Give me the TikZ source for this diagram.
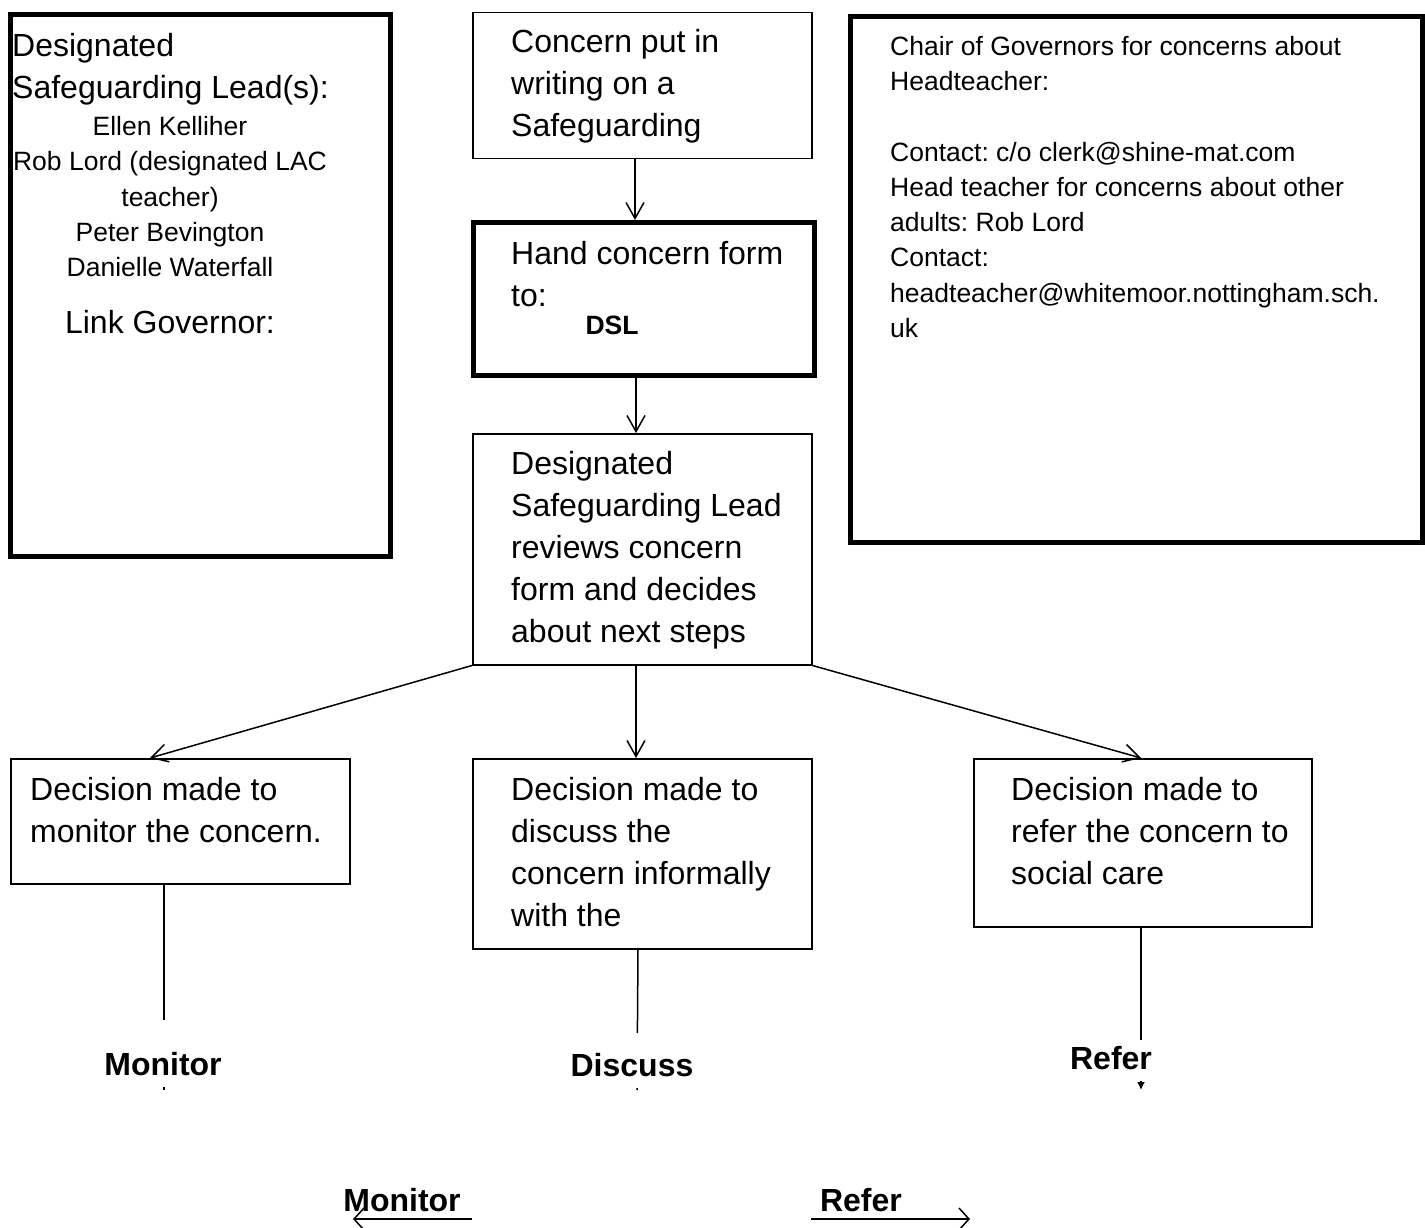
\documentclass[tikz,border=0pt]{standalone}
\usepackage{fontspec}
\setmainfont{Liberation Sans}
\usetikzlibrary{arrows.meta}
\frenchspacing
\begin{document}
\begin{tikzpicture}[x=1pt,y=-1pt,
  thinbox/.style={draw,line width=1.5pt,inner sep=0pt,anchor=north west},
  thickbox/.style={draw,line width=5pt,inner sep=0pt,anchor=north west},
  big/.style={font=\fontsize{32}{42}\selectfont,inner sep=0pt,align=left,anchor=base west},
  small/.style={font=\fontsize{26.5}{35.3}\selectfont,inner sep=0pt},
  conn/.style={line width=1.5pt,-{Straight Barb[length=16pt,width=18pt,line width=1.5pt]}},
  plain/.style={line width=1.5pt},
  lbl/.style={font=\fontsize{32}{38}\selectfont\bfseries,inner sep=0pt,fill=white,anchor=base}
]
\useasboundingbox (0,0) rectangle (1425,1228);
\fill[white] (0,0) rectangle (1425,1228);

% boxes
\node[thickbox,minimum width=380pt,minimum height=542pt] (dslbox) at (8,12) {};
\node[thickbox,minimum width=572pt,minimum height=526pt] (chair) at (848,14) {};
\node[thinbox,minimum width=339pt,minimum height=146pt] (b1) at (472,12) {};
\node[thickbox,minimum width=341pt,minimum height=153pt] (b2) at (471,220) {};
\node[thinbox,minimum width=339pt,minimum height=231pt] (b3) at (472,433) {};
\node[thinbox,minimum width=339pt,minimum height=125pt] (b4) at (10,758) {};
\node[thinbox,minimum width=339pt,minimum height=190pt] (b5) at (472,758) {};
\node[thinbox,minimum width=338pt,minimum height=168pt] (b6) at (973,758) {};

% left box text (base anchor = last line baseline)
\node[big] (t0a) at (12,98.5) {Designated\\Safeguarding Lead(s):};
\node[small,align=center,anchor=base] (t0b) at (170,276.7) {Ellen Kelliher\\Rob Lord (designated LAC\\teacher)\\Peter Bevington\\Danielle Waterfall};
\node[big,anchor=base] (t0c) at (170,333.5) {Link Governor:};

% right box text
\node[small,align=left,anchor=base west] (tc) at (890,337.5) {Chair of Governors for concerns about\\Headteacher:\\[35.3pt]Contact: c/o clerk@shine-mat.com\\Head teacher for concerns about other\\adults: Rob Lord\\Contact:\\headteacher@whitemoor.nottingham.sch.\\uk};

% centre texts
\node[big] (t1) at (511,137) {Concern put in\\writing on a\\Safeguarding};
\node[big] (t2) at (511,306.5) {Hand concern form\\to:};
\node[small,font=\fontsize{26.5}{35.3}\selectfont\bfseries,anchor=base] (t2b) at (612,334.5) {DSL};
\node[big] (t3) at (511,642.5) {Designated\\Safeguarding Lead\\reviews concern\\form and decides\\about next steps};
\node[big] (t4) at (30,842.5) {Decision made to\\monitor the concern.};
\node[big] (t5) at (511,926.5) {Decision made to\\discuss the\\concern informally\\with the};
\node[big] (t6) at (1011,884.5) {Decision made to\\refer the concern to\\social care};

% arrows between boxes
\draw[conn] (b1.south -| 635,0) -- (b2.north -| 635,0);
\draw[conn] (b2.south -| 636,0) -- (b3.north -| 636,0);
\draw[conn] (b3.south -| 636,0) -- (b5.north -| 636,0);
\draw[conn] (b3.south west) -- (b4.north -| 150,0);
\draw[conn] (b3.south east) -- (b6.north -| 1141,0);

% lines to decision labels
\coordinate (e4) at (164,1090);
\coordinate (e5) at (637,1090);
\coordinate (e6) at (1141,1090);
\draw[plain] (b4.south -| 164,0) -- (e4);
\draw[plain] (b5.south -| 638,0) -- (e5);
\draw[line width=1.5pt,-{Latex[length=8pt,width=8pt]}] (b6.south -| 1141,0) -- (e6);
\node[lbl,text height=55.5pt,text depth=11pt,minimum width=140pt] (l4) at (163,1075.5) {Monitor};
\node[lbl,text height=43.5pt,text depth=11pt,minimum width=140pt] (l5) at (632,1076.5) {Discuss};
\node[lbl,text height=29.5pt,text depth=11pt,minimum width=100pt] (l6) at (1111,1069.5) {Refer};

% bottom arrows
\node[lbl,fill=none] (m2) at (402,1211.5) {Monitor};
\node[lbl,fill=none] (r2) at (861,1211.5) {Refer};
\coordinate (ms) at (472,1219);
\coordinate (me) at (353,1219);
\coordinate (rs) at (811,1219);
\coordinate (re) at (970,1219);
\draw[line width=2.5pt,-{Straight Barb[length=10pt,width=22pt,line width=1.5pt]}] (ms) -- (me);
\draw[line width=2.5pt,-{Straight Barb[length=10pt,width=22pt,line width=1.5pt]}] (rs) -- (re);
\end{tikzpicture}
\end{document}
